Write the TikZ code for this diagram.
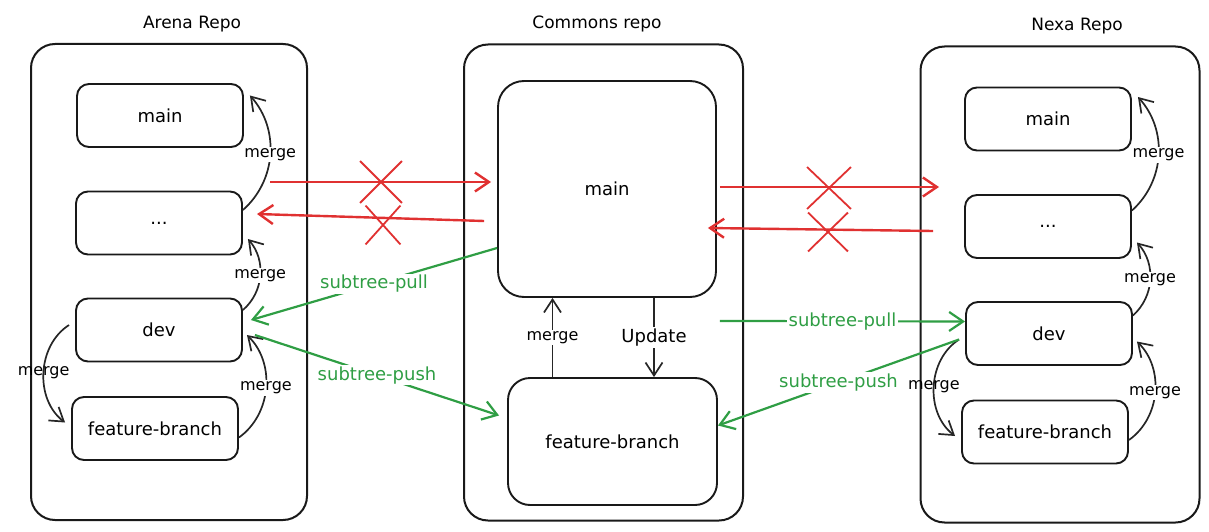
\documentclass[tikz,border=0pt]{standalone}
\usepackage{fontspec}
\setmainfont{DejaVu Sans}
\usetikzlibrary{arrows.meta,positioning,shapes.misc}

\definecolor{xred}{HTML}{E03131}
\definecolor{xgreen}{HTML}{2F9E44}

\begin{document}
\begin{tikzpicture}[x=1pt,y=-1pt,
repo/.style={draw=black!90,line width=2pt,rounded corners=24pt,minimum height=476pt},
br/.style={draw=black!90,line width=1.9pt,rounded corners=12pt,minimum width=166pt,minimum height=63pt,font=\fontsize{18}{21}\selectfont},
ttl/.style={font=\fontsize{17}{20}\selectfont},
mrg/.style={draw=black!85,line width=1.7pt,-{Straight Barb[length=13pt,width=17pt]}},
lbl/.style={fill=white,inner sep=1.5pt,font=\fontsize{16}{19}\selectfont},
gr/.style={draw=xgreen,line width=2.2pt,-{Straight Barb[length=14pt,width=19pt]}},
glbl/.style={fill=white,inner sep=1.5pt,text=xgreen,font=\fontsize{18}{21}\selectfont},
rd/.style={draw=xred,line width=2.4pt,-{Straight Barb[length=14pt,width=19pt]}},
nox/.style={cross out,draw=xred,line width=1.8pt,inner sep=0pt}]

\useasboundingbox (0,0) rectangle (1209,532);

\node[repo,minimum width=276pt] (arepo) at (169,282) {};
\node[repo,minimum width=279pt] (crepo) at (603.5,282.5) {};
\node[repo,minimum width=279pt] (nrepo) at (1060,284.5) {};

\node[ttl] (arena) at (192,24) {Arena Repo};
\node[ttl] (commons) at (597,24) {Commons repo};
\node[ttl] (nexa) at (1077,26) {Nexa Repo};

\node[br] (amain) at (160,115.5) {main};
\node[br] (adots) at (159,223) {...};
\node[br] (adev) at (159,330) {dev};
\node[br] (afb) at (155,428.5) {feature-branch};

\node[br,minimum width=218pt,minimum height=216pt,rounded corners=26pt] (cmain) at (607,189) {main};
\node[br,minimum width=209pt,minimum height=127pt,rounded corners=22pt] (cfb) at (612.5,441.5) {feature-branch};

\node[br] (nmain) at (1048,119) {main};
\node[br] (ndots) at (1048,226.5) {...};
\node[br] (ndev) at (1049,333.5) {dev};
\node[br] (nfb) at (1045,432) {feature-branch};

\draw[mrg] ([yshift=13pt]adots.east) to[bend right=45] node[lbl] {merge} ([xshift=6pt,yshift=20pt]amain.east);
\draw[mrg] ([yshift=20pt]adev.east) to[bend right=45] node[lbl] {merge} ([xshift=5pt,yshift=-16pt]adots.east);
\draw[mrg] ([xshift=-6pt,yshift=5pt]adev.west) to[bend right=55] node[lbl,fill=none] {merge} ([xshift=-6pt,yshift=6pt]afb.west);
\draw[mrg] ([yshift=-9pt]afb.east) to[bend right=50] node[lbl] {merge} ([xshift=4pt,yshift=-5pt]adev.east);

\draw[mrg] ([yshift=16pt]ndots.east) to[bend right=45] node[lbl] {merge} ([xshift=6pt,yshift=22pt]nmain.east);
\draw[mrg] ([yshift=18pt]ndev.east) to[bend right=45] node[lbl] {merge} ([xshift=5pt,yshift=-16pt]ndots.east);
\draw[mrg] ([xshift=-6pt,yshift=-6pt]ndev.west) to[bend right=55] node[lbl,fill=none] {merge} ([xshift=-6pt,yshift=-4pt]nfb.west);
\draw[mrg] ([yshift=-8pt]nfb.east) to[bend right=50] node[lbl] {merge} ([xshift=4pt,yshift=-8pt]ndev.east);

\draw[mrg] ([xshift=-60pt]cfb.north) -- node[lbl] {merge} ([xshift=-60pt]cfb.north |- cmain.south);
\draw[mrg] ([xshift=47pt]cmain.south) -- node[lbl,font=\fontsize{18}{21}\selectfont] {Update} ([xshift=47pt]cmain.south |- cfb.north);

\coordinate (ra) at (270,182);
\coordinate (rb) at (257,214);
\coordinate (rc) at (939,187);
\coordinate (rd) at (933,231);

\draw[rd] (ra) -- ([xshift=-6pt,yshift=7pt]cmain.west);
\draw[rd] ([xshift=-13pt,yshift=-32pt]cmain.west) -- (rb);
\draw[rd] ([xshift=3pt,yshift=2pt]cmain.east) -- (rc);
\draw[rd] (rd) -- ([xshift=-9pt,yshift=-39pt]cmain.east);

\node[nox,minimum width=40pt,minimum height=40pt] (x1) at (381,182) {};
\node[nox,minimum width=33pt,minimum height=37pt] (x2) at (383,225) {};
\node[nox,minimum width=42pt,minimum height=40pt] (x3) at (829,188) {};
\node[nox,minimum width=38pt,minimum height=37pt] (x4) at (828,232) {};

\draw[gr] ([yshift=-59pt]cmain.west) -- node[glbl] {subtree-pull} ([xshift=8pt,yshift=10pt]adev.east);
\draw[gr] ([xshift=12pt,yshift=-5pt]adev.east) -- node[glbl] {subtree-push} ([xshift=-8pt,yshift=26pt]cfb.west);
\draw[gr] ([xshift=3pt,yshift=-23pt]cmain.south east) -- node[glbl] {subtree-pull} ([yshift=12pt]ndev.west);
\draw[gr] ([xshift=-6pt,yshift=-6pt]ndev.west) -- node[glbl] {subtree-push} ([yshift=16pt]cfb.east);

\end{tikzpicture}
\end{document}
